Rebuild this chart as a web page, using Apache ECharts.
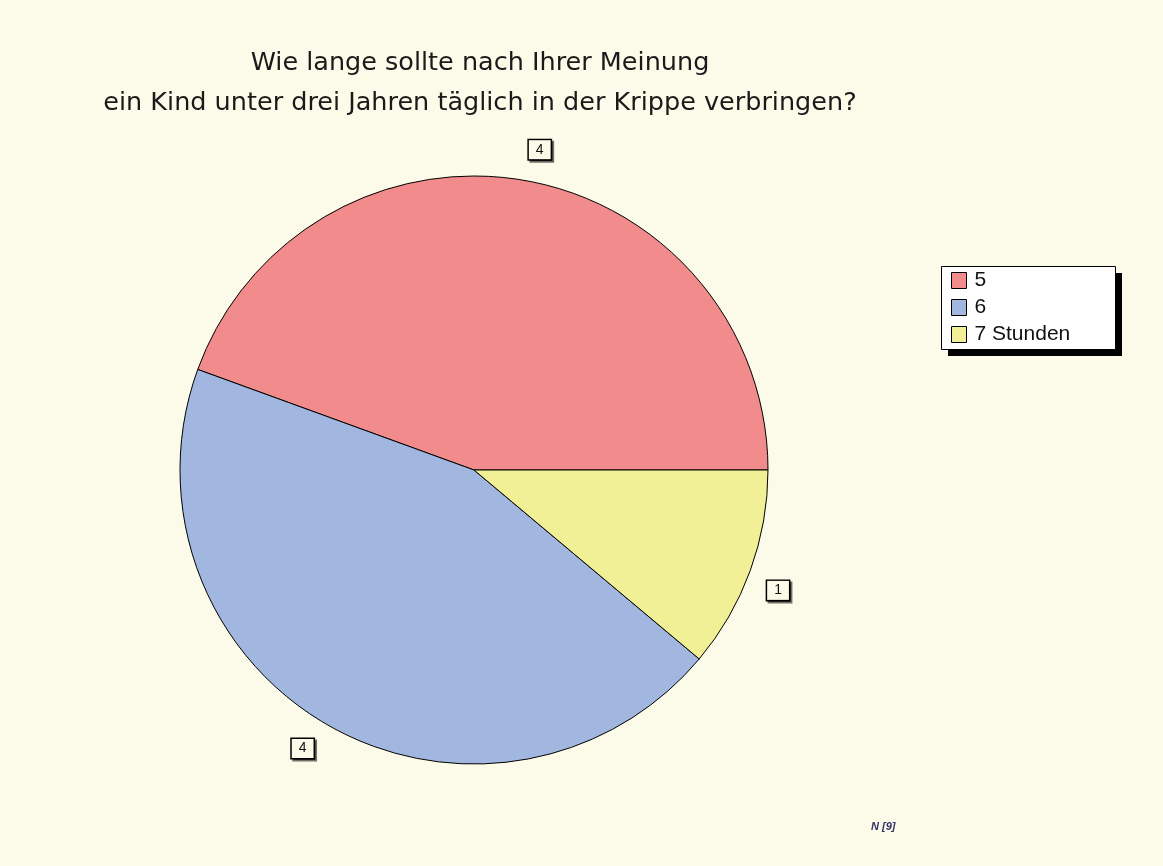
<!DOCTYPE html>
<html><head><meta charset="utf-8">
<script src="https://cdn.jsdelivr.net/npm/echarts@6/dist/echarts.min.js"></script>
<style>html,body{margin:0;padding:0;background:#FCFAE8;}#c{width:1163px;height:866px;}</style>
</head><body><div id="c"></div>
<script>
const titleLines = ['Wie lange sollte nach Ihrer Meinung', 'ein Kind unter drei Jahren täglich in der Krippe verbringen?'];
const categories = ['5', '6', '7 Stunden'];
const values = [4, 4, 1];
const colors = ['#F28B8B', '#A1B7E0', '#F2F096'];
const footnote = 'N [9]';

const chart = echarts.init(document.getElementById('c'));
const data = categories.map((c, i) => ({name: c, value: values[i], itemStyle: {color: colors[i]}}));
chart.setOption({
  backgroundColor: '#FCFAE8',
  animation: false,
  graphic: [
    {type: 'rect', z: 0, shape: {x: 948, y: 273, width: 174, height: 83}, style: {fill: '#000'}},
    {type: 'rect', z: 1, shape: {x: 941.5, y: 266.5, width: 174, height: 83}, style: {fill: '#fff', stroke: '#000', lineWidth: 1}}
  ],
  title: [{
    text: titleLines.join('\n'), left: 475, top: 38, textAlign: 'center',
    textStyle: {fontFamily: 'DejaVu Sans', fontSize: 25.5, fontWeight: 'normal', color: '#1a1a1a', lineHeight: 40}
  }, {
    text: footnote, left: 866, top: 816,
    textStyle: {fontFamily: 'Liberation Sans', fontSize: 11, fontStyle: 'italic', fontWeight: 'bold', color: '#333366'}
  }],
  legend: {
    orient: 'vertical', left: 951, top: 270, z: 5,
    data: categories,
    icon: 'rect', itemWidth: 15, itemHeight: 16, itemGap: 6,
    padding: 0,
    itemStyle: {borderColor: '#000', borderWidth: 1},
    textStyle: {fontFamily: 'Liberation Sans', fontSize: 21, color: '#111', padding: [0, 0, 0, 3]},
    selectedMode: false
  },
  series: [{
    type: 'pie', center: [474, 470], radius: 294,
    startAngle: 0, clockwise: false,
    data: data,
    itemStyle: {borderColor: '#000', borderWidth: 1},
    label: {show: false}, labelLine: {show: false},
    emphasis: {disabled: true}
  }, {
    type: 'pie', center: [474, 470], radius: [298, 350],
    startAngle: -1.6, clockwise: false, silent: true,
    data: data.map(d => ({name: d.name, value: d.value})),
    itemStyle: {color: 'rgba(0,0,0,0)'},
    labelLine: {show: false},
    label: {
      show: true, position: 'inside', formatter: '{c}',
      fontFamily: 'Liberation Sans', fontSize: 14, color: '#111',
      backgroundColor: '#FCFAE8', borderColor: '#000', borderWidth: 1.5,
      padding: [3, 7, 2, 7],
      shadowColor: 'rgba(0,0,0,0.55)', shadowBlur: 0, shadowOffsetX: 2, shadowOffsetY: 2
    },
    emphasis: {disabled: true},
    legendHoverLink: false
  }]
});
</script></body></html>
